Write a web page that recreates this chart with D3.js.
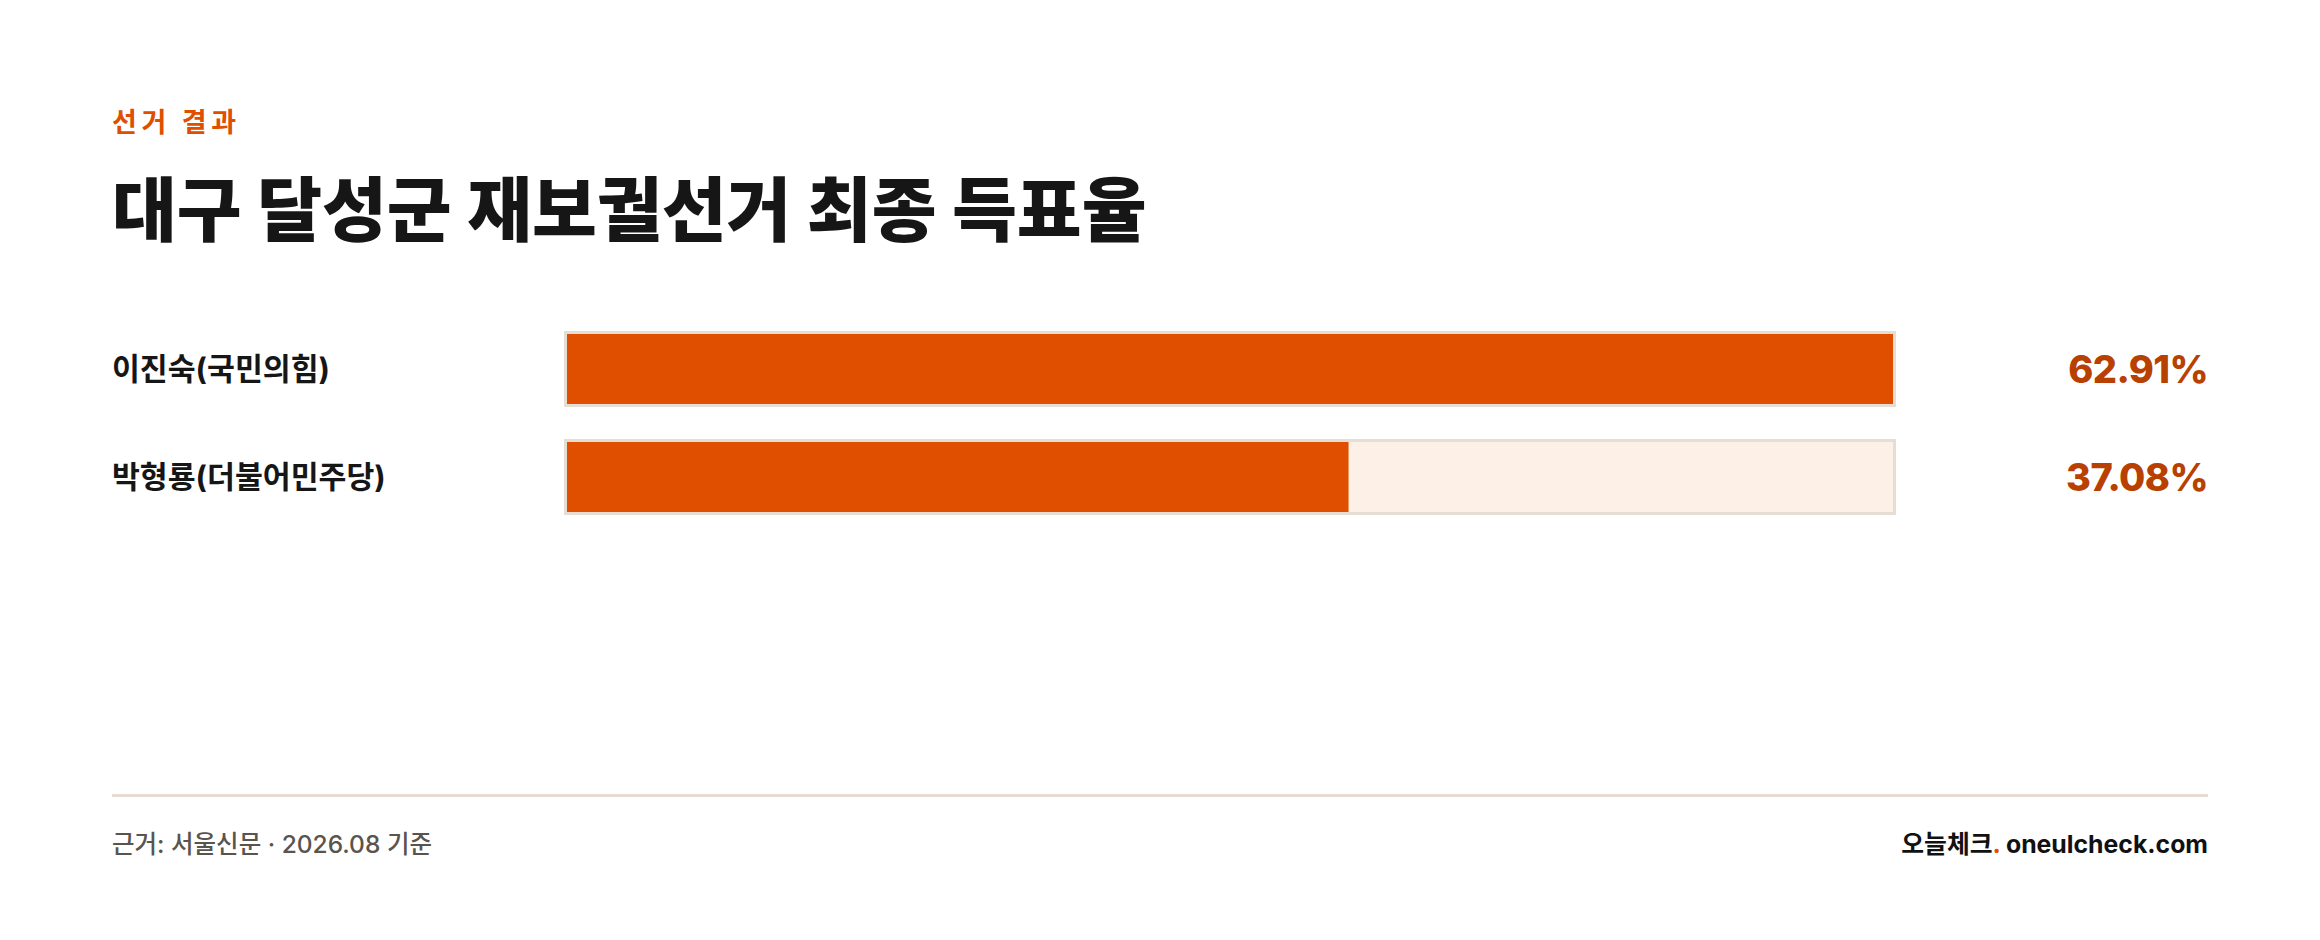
<!DOCTYPE html>
<html>
<head>
<meta charset="utf-8">
<script src="https://cdn.jsdelivr.net/npm/d3@7"></script>
<style>
  body { margin: 0; background: #fff; }
  svg { display: block; }
  text { font-family: "Inter", "Noto Sans CJK KR", sans-serif; }
</style>
</head>
<body>
<script>
let w = 2320;
let h = 940;

var eyebrow = "선거 결과";
var title = "대구 달성군 재보궐선거 최종 득표율";
var candidates = ["이진숙(국민의힘)", "박형룡(더불어민주당)"];
var shares = [62.91, 37.08];
var shareLabels = ["62.91%", "37.08%"];
var source = "근거: 서울신문 · 2026.08 기준";

var left = 112, right = 2208;
var trackX0 = 564, trackX1 = 1896, border = 3;

var svg = d3.select("body").append("svg")
    .attr("width", w)
    .attr("height", h);

svg.append("rect").attr("width", w).attr("height", h).attr("fill", "#fff");

// header
svg.append("text")
    .attr("x", left).attr("y", 122)
    .attr("dominant-baseline", "central")
    .attr("font-size", 27).attr("font-weight", 700)
    .attr("fill", "#e04e00")
    .attr("letter-spacing", "0.17em")
    .text(eyebrow);

svg.append("text")
    .attr("x", left).attr("y", 210)
    .attr("dominant-baseline", "central")
    .attr("font-size", 70.5).attr("font-weight", 800)
    .attr("fill", "#161616")
    .text(title);

// bars
var y = d3.scaleBand()
    .domain(candidates)
    .range([331, 515])
    .paddingInner(0.2963)
    .paddingOuter(0);

var x = d3.scaleLinear()
    .domain([0, d3.max(shares)])
    .range([trackX0 + border, trackX1 - border]);

var rows = svg.selectAll("g.row").data(candidates).enter().append("g")
    .attr("class", "row");

// track
rows.append("rect")
    .attr("x", trackX0 + border / 2)
    .attr("y", d => y(d) + border / 2)
    .attr("width", trackX1 - trackX0 - border)
    .attr("height", y.bandwidth() - border)
    .attr("fill", "#fdf0e7")
    .attr("stroke", "#e6ddd5")
    .attr("stroke-width", border);

// fill
rows.append("rect")
    .attr("x", x(0))
    .attr("y", d => y(d) + border)
    .attr("width", (d, i) => x(shares[i]) - x(0))
    .attr("height", y.bandwidth() - border * 2)
    .attr("fill", "#e04e00");

rows.append("text")
    .attr("x", left)
    .attr("y", d => y(d) + y.bandwidth() / 2)
    .attr("dominant-baseline", "central")
    .attr("font-size", 30.3).attr("font-weight", 700)
    .attr("fill", "#161616")
    .text(d => d);

rows.append("text")
    .attr("x", right)
    .attr("y", d => y(d) + y.bandwidth() / 2)
    .attr("dominant-baseline", "central")
    .attr("text-anchor", "end")
    .attr("font-size", 38).attr("font-weight", 800)
    .attr("fill", "#b84000")
    .attr("letter-spacing", "-0.015em")
    .text((d, i) => shareLabels[i]);

// footer
svg.append("line")
    .attr("x1", left).attr("x2", right)
    .attr("y1", 795.5).attr("y2", 795.5)
    .attr("stroke", "#e6dcd2").attr("stroke-width", 3);

svg.append("text")
    .attr("x", left).attr("y", 844)
    .attr("dominant-baseline", "central")
    .attr("font-size", 24.5).attr("font-weight", 500)
    .attr("fill", "#5a544e")
    .text(source);

var brand = svg.append("text")
    .attr("x", right).attr("y", 844)
    .attr("dominant-baseline", "central")
    .attr("text-anchor", "end")
    .attr("font-size", 24.8).attr("font-weight", 700)
    .attr("fill", "#111");
brand.append("tspan").text("오늘체크");
brand.append("tspan").attr("fill", "#e04e00").text(".");
brand.append("tspan").text(" oneulcheck.com");
</script>
</body>
</html>
